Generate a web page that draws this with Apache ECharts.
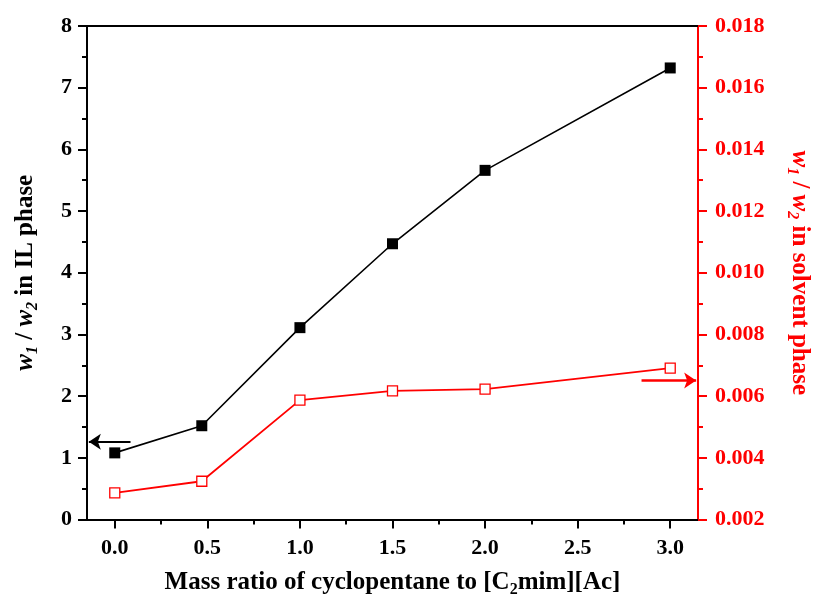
<!DOCTYPE html>
<html>
<head>
<meta charset="utf-8">
<script src="https://cdn.jsdelivr.net/npm/echarts@6/dist/echarts.min.js"></script>
<style>
html,body{margin:0;padding:0;background:#fff;}
#chart{width:813px;height:595px;}
</style>
</head>
<body>
<div id="chart"></div>
<script>
// Data
var massRatio = [0, 0.47, 1.0, 1.5, 2.0, 3.0];
var ilPhase = [1.08, 1.52, 3.11, 4.47, 5.66, 7.32];
var solventPhase = [0.00286, 0.00324, 0.00587, 0.00617, 0.00623, 0.00691];
var xTickLabels = [0, 0.5, 1.0, 1.5, 2.0, 2.5, 3.0];
var xMinorTicks = [0.25, 0.75, 1.25, 1.75, 2.25, 2.75];
// arrow annotations: [x start, x end, y]
var blackArrow = [0.085, -0.14, 1.26];
var redArrow = [2.845, 3.14, 0.00651];

var FONT = '"Liberation Serif", "Times New Roman", serif';
var RED = '#ff0000';

function pairs(xs, ys) { return xs.map(function (x, i) { return [x, ys[i]]; }); }

function richFor(color) {
  return {
    i: { fontFamily: FONT, fontSize: 25, fontWeight: 'bold', fontStyle: 'italic', color: color, lineHeight: 30, verticalAlign: 'middle' },
    s: { fontFamily: FONT, fontSize: 16, fontWeight: 'bold', fontStyle: 'italic', color: color, lineHeight: 16, verticalAlign: 'bottom' },
    n: { fontFamily: FONT, fontSize: 25, fontWeight: 'bold', color: color, lineHeight: 30, verticalAlign: 'middle' },
    sn: { fontFamily: FONT, fontSize: 16, fontWeight: 'bold', color: color, lineHeight: 16, verticalAlign: 'bottom' }
  };
}

var chart = echarts.init(document.getElementById('chart'), null, { renderer: 'canvas' });
var option = {
  animation: false,
  backgroundColor: '#fff',
  grid: { left: 87, right: 115, top: 26, bottom: 75.5, containLabel: false, outerBoundsMode: 'none' },
  xAxis: [
    {
      type: 'value', position: 'bottom', min: -0.15, max: 3.15,
      name: '{n|Mass ratio of cyclopentane to [C}{sn|2}{n|mim][Ac]}',
      nameLocation: 'middle', nameGap: 48,
      nameTextStyle: { rich: richFor('#000') },
      axisLine: { show: true, onZero: false, lineStyle: { color: '#000', width: 2 } },
      axisTick: { show: true, length: 9, lineStyle: { color: '#000', width: 2 }, customValues: xTickLabels },
      axisLabel: { show: true, customValues: xTickLabels, margin: 18, fontFamily: FONT, fontSize: 22, fontWeight: 'bold', color: '#000',
        formatter: function (v) { return v.toFixed(1); } },
      splitLine: { show: false }
    },
    {
      type: 'value', position: 'bottom', min: -0.15, max: 3.15,
      axisLine: { show: false, onZero: false },
      axisTick: { show: true, length: 5, lineStyle: { color: '#000', width: 2 }, customValues: xMinorTicks },
      axisLabel: { show: false, customValues: xMinorTicks },
      splitLine: { show: false }
    },
    {
      type: 'value', position: 'top', min: -0.15, max: 3.15,
      axisLine: { show: true, onZero: false, lineStyle: { color: '#000', width: 2 } },
      axisTick: { show: false }, axisLabel: { show: false }, splitLine: { show: false }
    }
  ],
  yAxis: [
    {
      type: 'value', position: 'left', min: 0, max: 8, interval: 1,
      name: '{i|w}{s|1}{n| / }{i|w}{s|2}{n| in IL phase}',
      nameLocation: 'middle', nameRotate: 90, nameGap: 46,
      nameTextStyle: { rich: richFor('#000') },
      axisLine: { show: true, onZero: false, lineStyle: { color: '#000', width: 2 } },
      axisTick: { show: true, length: 9, lineStyle: { color: '#000', width: 2 } },
      minorTick: { show: true, splitNumber: 2, length: 5, lineStyle: { color: '#000', width: 2 } },
      axisLabel: { margin: 15, fontFamily: FONT, fontSize: 22, fontWeight: 'bold', color: '#000' },
      splitLine: { show: false }
    },
    {
      type: 'value', position: 'right', min: 0.002, max: 0.018, interval: 0.002,
      name: '{i|w}{s|1}{n| / }{i|w}{s|2}{n| in solvent phase}',
      nameLocation: 'middle', nameRotate: -90, nameGap: 86,
      nameTextStyle: { rich: richFor(RED) },
      axisLine: { show: true, onZero: false, lineStyle: { color: RED, width: 2 } },
      axisTick: { show: true, length: 9, lineStyle: { color: RED, width: 2 } },
      minorTick: { show: true, splitNumber: 2, length: 5, lineStyle: { color: RED, width: 2 } },
      axisLabel: { margin: 17, fontFamily: FONT, fontSize: 22, fontWeight: 'bold', color: RED,
        formatter: function (v) { return v.toFixed(3); } },
      splitLine: { show: false }
    }
  ],
  series: [
    {
      type: 'line', xAxisIndex: 0, yAxisIndex: 0,
      data: pairs(massRatio, ilPhase),
      symbol: 'rect', symbolSize: 11,
      lineStyle: { color: '#000', width: 1.6 },
      itemStyle: { color: '#000' },
      markLine: {
        silent: true, symbol: ['none', 'arrow'], symbolSize: 12,
        label: { show: false },
        lineStyle: { color: '#000', width: 2, type: 'solid' },
        data: [[{ coord: [blackArrow[0], blackArrow[2]] }, { coord: [blackArrow[1], blackArrow[2]] }]]
      }
    },
    {
      type: 'line', xAxisIndex: 0, yAxisIndex: 1,
      data: pairs(massRatio, solventPhase),
      symbol: 'rect', symbolSize: 10,
      lineStyle: { color: RED, width: 1.8 },
      itemStyle: { color: '#fff', borderColor: RED, borderWidth: 1.3 },
      markLine: {
        silent: true, symbol: ['none', 'arrow'], symbolSize: 12,
        label: { show: false },
        lineStyle: { color: RED, width: 2.5, type: 'solid' },
        data: [[{ coord: [redArrow[0], redArrow[2]] }, { coord: [redArrow[1], redArrow[2]] }]]
      }
    }
  ]
};
chart.setOption(option);
</script>
</body>
</html>
